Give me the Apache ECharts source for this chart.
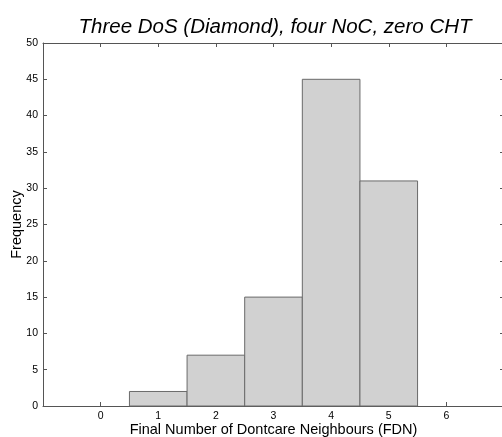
<!DOCTYPE html>
<html>
<head>
<meta charset="utf-8">
<script src="https://cdn.jsdelivr.net/npm/echarts@6/dist/echarts.min.js"></script>
<style>
  html, body { margin: 0; padding: 0; background: #fff; }
  #chart { width: 502px; height: 437px; }
</style>
</head>
<body>
<div id="chart"></div>
<script>
// histogram bins (centre) and counts
const binCenters = [1, 2, 3, 4, 5];
const counts = [2, 7, 15, 45, 31];
const binWidth = 1;
const xTicks = [0, 1, 2, 3, 4, 5, 6];

const chart = echarts.init(document.getElementById("chart"));

const font = "Liberation Sans, Arial, sans-serif";
const axisColor = "#555";

function renderBar(params, api) {
    const c = api.value(0);
    const v = api.value(1);
    const p0 = api.coord([c - binWidth / 2, 0]);
    const p1 = api.coord([c + binWidth / 2, v]);
    return {
        type: 'rect',
        shape: { x: p0[0], y: p1[1], width: p1[0] - p0[0], height: p0[1] - p1[1] },
        style: { fill: '#d1d1d1', stroke: '#6a6a6a', lineWidth: 1 }
    };
}

const option = {
    animation: false,
    title: {
        text: 'Three DoS (Diamond), four NoC, zero CHT',
        left: 270,
        textAlign: 'center',
        top: 12,
        textStyle: { fontFamily: font, fontStyle: 'italic', fontWeight: 'normal', fontSize: 20.5, color: '#000' }
    },
    grid: { left: 43, top: 43, width: 461, height: 363, outerBoundsMode: 'none', containLabel: false },
    xAxis: [{
        type: 'value', min: -1, max: 7, interval: 1, position: 'bottom',
        name: 'Final Number of Dontcare Neighbours (FDN)',
        nameLocation: 'middle', nameGap: 16, nameMoveOverlap: false,
        nameTextStyle: { fontFamily: font, fontSize: 14.5, color: '#000' },
        axisLine: { onZero: false, lineStyle: { color: axisColor } },
        axisTick: { inside: true, length: 4, lineStyle: { color: axisColor } },
        axisLabel: {
            fontFamily: font, fontSize: 10.5, color: '#000', margin: 5,
            formatter: function (v) { return xTicks.indexOf(v) >= 0 ? String(v) : ''; }
        },
        splitLine: { show: false }
    }, {
        type: 'value', min: -1, max: 7, interval: 1, position: 'top',
        axisLine: { onZero: false, lineStyle: { color: axisColor } },
        axisTick: { inside: true, length: 4, lineStyle: { color: axisColor } },
        axisLabel: { show: false },
        splitLine: { show: false }
    }],
    yAxis: [{
        type: 'value', min: 0, max: 50, interval: 5, position: 'left',
        name: 'Frequency', nameLocation: 'middle', nameGap: 19, nameMoveOverlap: false,
        nameTextStyle: { fontFamily: font, fontSize: 14.5, color: '#000' },
        axisLine: { show: true, onZero: false, lineStyle: { color: axisColor } },
        axisTick: { show: true, inside: true, length: 4, lineStyle: { color: axisColor } },
        axisLabel: { fontFamily: font, fontSize: 10.5, color: '#000', margin: 5 },
        splitLine: { show: false }
    }, {
        type: 'value', min: 0, max: 50, interval: 5, position: 'right',
        axisLine: { show: true, onZero: false, lineStyle: { color: axisColor } },
        axisTick: { show: true, inside: true, length: 4, lineStyle: { color: axisColor } },
        axisLabel: { show: false },
        splitLine: { show: false }
    }],
    series: [{
        type: 'custom',
        renderItem: renderBar,
        encode: { x: 0, y: 1 },
        data: binCenters.map(function (c, i) { return [c, counts[i]]; })
    }]
};

chart.setOption(option);
</script>
</body>
</html>
